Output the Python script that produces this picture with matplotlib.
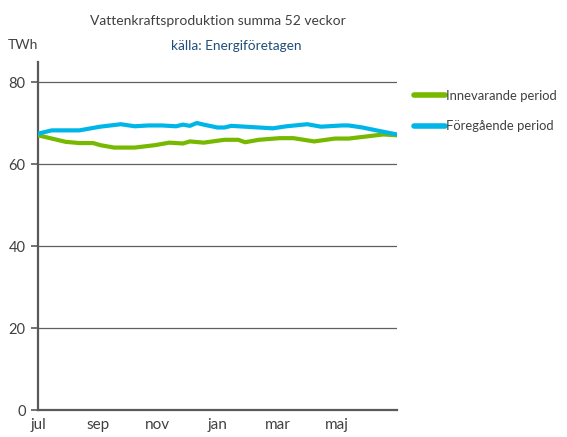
import numpy as np
import matplotlib
matplotlib.use("Agg")
import matplotlib.pyplot as plt
from matplotlib.lines import Line2D

# week index within the 52-week window (jul -> jun)
weeks_prev = [0, 2, 6, 7, 9, 12, 14, 16, 18, 20, 21, 22, 23, 24, 26, 27, 28,
              30, 34, 36, 39, 41, 44, 45, 47, 49, 52]
prev_period = [67.5, 68.3, 68.3, 68.6, 69.2, 69.8, 69.3, 69.5, 69.5, 69.3, 69.7,
               69.4, 70.1, 69.7, 69.0, 69.0, 69.4, 69.2, 68.8, 69.3, 69.8, 69.2,
               69.5, 69.5, 69.0, 68.3, 67.3]

weeks_cur = [0, 2, 4, 6, 8, 9, 11, 14, 17, 19, 21, 22, 24, 27, 29, 30, 32, 35,
             37, 40, 43, 45, 47, 50, 52]
cur_period = [67.1, 66.3, 65.5, 65.2, 65.2, 64.7, 64.1, 64.1, 64.7, 65.3, 65.1,
              65.6, 65.3, 66.0, 66.0, 65.4, 66.0, 66.4, 66.4, 65.6, 66.3, 66.3,
              66.7, 67.3, 67.1]

month_labels = ["jul", "sep", "nov", "jan", "mar", "maj"]
month_pos = [i * 52 / 6 for i in range(6)]

plt.rcParams['font.family'] = ['Lato', 'DejaVu Sans']
txt = '#404040'
green = '#76B900'
blue = '#00B6E8'

fig = plt.figure(figsize=(5.67, 4.37), dpi=100)
ax = fig.add_axes([38 / 567, 1 - 410 / 437, (397 - 38) / 567, (410 - 62) / 437])

ax.plot(weeks_cur, cur_period, color=green, linewidth=3.0,
        solid_capstyle='round', zorder=3)
ax.plot(weeks_prev, prev_period, color=blue, linewidth=3.0,
        solid_capstyle='round', zorder=4)

ax.set_xlim(0, 52)
ax.set_ylim(0, 85)
ax.set_yticks([0, 20, 40, 60, 80])
ax.set_xticks(month_pos)
ax.set_xticklabels(month_labels)
ax.tick_params(axis='x', length=0, pad=6, labelsize=11, colors=txt)
ax.tick_params(axis='y', length=5, width=1.2, color='#595959', pad=4,
               labelsize=10.5, labelcolor=txt)

for y in [20, 40, 60, 80]:
    ax.axhline(y, color='#606060', linewidth=0.9, zorder=1)

for s in ['top', 'right']:
    ax.spines[s].set_visible(False)
ax.spines['left'].set_color('#595959')
ax.spines['left'].set_linewidth(1.6)
ax.spines['bottom'].set_color('#595959')
ax.spines['bottom'].set_linewidth(1.6)

fig.text(218 / 567, 1 - 21 / 437, "Vattenkraftsproduktion summa 52 veckor",
         ha='center', va='center', fontsize=10, color=txt)
fig.text(236 / 567, 1 - 46 / 437, "källa: Energiföretagen",
         ha='center', va='center', fontsize=9.8, color='#1F4E79')
fig.text(23 / 567, 1 - 45 / 437, "TWh", ha='center', va='center',
         fontsize=10, color=txt)

handles = [Line2D([], [], color=green, linewidth=4, solid_capstyle='round'),
           Line2D([], [], color=blue, linewidth=4, solid_capstyle='round')]
ax.legend(handles, ['Innevarande period', 'Föregående period'],
          loc='upper left', bbox_to_anchor=(406 / 567, 1 - 82 / 437),
          bbox_transform=fig.transFigure, frameon=False, fontsize=9.4,
          handlelength=2.4, handletextpad=0.05, labelspacing=1.4,
          borderaxespad=0.2, labelcolor=txt)

fig.savefig("out.png", dpi=100)
